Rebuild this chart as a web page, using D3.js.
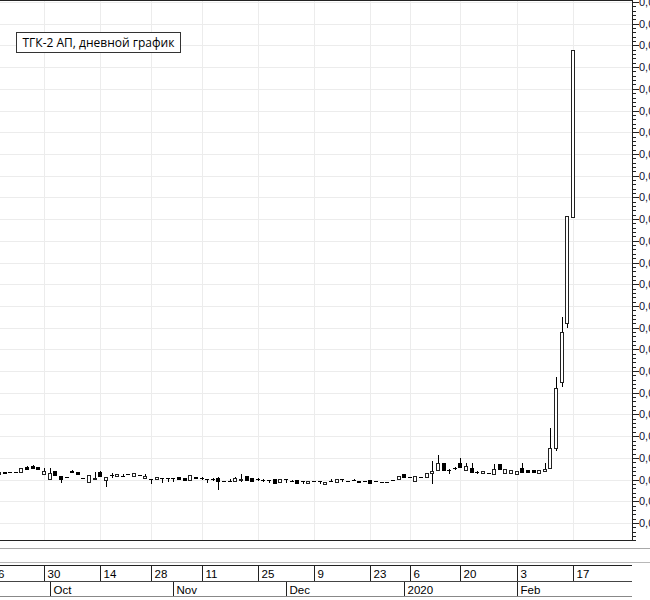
<!DOCTYPE html>
<html>
<head>
<meta charset="utf-8">
<script src="https://cdn.jsdelivr.net/npm/d3@7"></script>
<style>
  html, body { margin: 0; padding: 0; background: #fff; }
  svg { display: block; }
</style>
</head>
<body>
<svg id="chart" width="650" height="600"></svg>
<script>
// ---- DATA ----
const title = "ТГК-2 АП, дневной график";
const dates = [
  "2019-09-16","2019-09-17","2019-09-18","2019-09-19","2019-09-20","2019-09-23","2019-09-24","2019-09-25","2019-09-26","2019-09-27",
  "2019-09-30","2019-10-01","2019-10-02","2019-10-03","2019-10-04","2019-10-07","2019-10-08","2019-10-09","2019-10-10","2019-10-11",
  "2019-10-14","2019-10-15","2019-10-16","2019-10-17","2019-10-21","2019-10-22","2019-10-23","2019-10-24","2019-10-25","2019-10-28",
  "2019-10-29","2019-10-30","2019-10-31","2019-11-01","2019-11-05","2019-11-06","2019-11-07","2019-11-08","2019-11-11","2019-11-12",
  "2019-11-13","2019-11-14","2019-11-15","2019-11-18","2019-11-19","2019-11-20","2019-11-21","2019-11-22","2019-11-25","2019-11-26",
  "2019-11-27","2019-11-28","2019-11-29","2019-12-02","2019-12-03","2019-12-04","2019-12-05","2019-12-06","2019-12-09","2019-12-10",
  "2019-12-11","2019-12-12","2019-12-13","2019-12-16","2019-12-17","2019-12-18","2019-12-19","2019-12-20","2019-12-23","2019-12-24",
  "2019-12-25","2019-12-26","2019-12-27","2019-12-30","2020-01-03","2020-01-06","2020-01-08","2020-01-09","2020-01-10","2020-01-13",
  "2020-01-14","2020-01-15","2020-01-16","2020-01-17","2020-01-20","2020-01-21","2020-01-22","2020-01-23","2020-01-24","2020-01-27",
  "2020-01-28","2020-01-29","2020-01-30","2020-01-31","2020-02-03","2020-02-04","2020-02-05","2020-02-06","2020-02-07","2020-02-10",
  "2020-02-11","2020-02-12","2020-02-13","2020-02-14","2020-02-17"
];
// OHLC (null = outside the visible window)
const open = [
  null,null,0.00613,0.00618,0.00618,0.00618,0.00618,0.00629,0.00631,0.00629,
  0.00613,0.00601,0.00620,0.00608,0.00606,0.00620,0.00618,0.00604,0.00594,0.00601,
  0.00618,0.00599,0.00611,0.00608,0.00608,0.00613,0.00608,0.00611,0.00604,0.00601,
  0.00601,0.00604,0.00604,0.00604,0.00606,0.00604,0.00599,0.00606,0.00604,0.00601,
  0.00601,0.00604,0.00597,0.00597,0.00597,0.00599,0.00608,0.00604,0.00601,0.00599,
  0.00599,0.00601,0.00594,0.00601,0.00597,0.00599,0.00597,0.00592,0.00597,0.00597,
  0.00590,0.00597,0.00594,0.00601,0.00597,0.00599,0.00597,0.00597,0.00599,0.00597,
  0.00594,0.00594,0.00599,0.00601,0.00613,0.00606,0.00597,0.00606,0.00606,0.00615,
  0.00622,0.00638,0.00622,0.00627,0.00638,0.00622,0.00627,0.00618,0.00615,0.00615,
  0.00613,0.00636,0.00615,0.00615,0.00613,0.00627,0.00622,0.00622,0.00615,0.00620,
  0.00627,0.00673,0.00825,0.00961,0.01205
];
const high = [
  null,null,0.00618,0.00618,0.00618,0.00618,0.00627,0.00631,0.00634,0.00629,
  0.00627,0.00627,0.00620,0.00608,0.00606,0.00622,0.00618,0.00604,0.00611,0.00618,
  0.00620,0.00606,0.00615,0.00613,0.00613,0.00613,0.00615,0.00611,0.00613,0.00601,
  0.00606,0.00604,0.00604,0.00604,0.00606,0.00604,0.00611,0.00606,0.00606,0.00601,
  0.00604,0.00606,0.00597,0.00601,0.00606,0.00613,0.00608,0.00604,0.00604,0.00601,
  0.00599,0.00601,0.00601,0.00601,0.00599,0.00599,0.00597,0.00597,0.00597,0.00597,
  0.00594,0.00601,0.00601,0.00601,0.00597,0.00601,0.00597,0.00597,0.00599,0.00597,
  0.00594,0.00594,0.00599,0.00608,0.00613,0.00606,0.00608,0.00606,0.00615,0.00643,
  0.00657,0.00638,0.00624,0.00629,0.00650,0.00638,0.00638,0.00620,0.00620,0.00615,
  0.00636,0.00636,0.00624,0.00622,0.00620,0.00638,0.00622,0.00622,0.00622,0.00638,
  0.00719,0.00836,0.00975,0.01207,0.01590
];
const low = [
  null,null,0.00613,0.00615,0.00618,0.00618,0.00618,0.00624,0.00627,0.00624,
  0.00613,0.00601,0.00611,0.00594,0.00606,0.00618,0.00613,0.00604,0.00594,0.00601,
  0.00608,0.00585,0.00606,0.00608,0.00608,0.00613,0.00608,0.00611,0.00604,0.00592,
  0.00601,0.00594,0.00597,0.00597,0.00601,0.00599,0.00599,0.00604,0.00601,0.00594,
  0.00599,0.00578,0.00597,0.00597,0.00597,0.00597,0.00599,0.00597,0.00599,0.00597,
  0.00594,0.00592,0.00594,0.00594,0.00597,0.00592,0.00592,0.00592,0.00597,0.00592,
  0.00590,0.00597,0.00594,0.00597,0.00597,0.00599,0.00594,0.00597,0.00592,0.00597,
  0.00594,0.00594,0.00599,0.00601,0.00606,0.00606,0.00597,0.00606,0.00606,0.00592,
  0.00622,0.00622,0.00615,0.00624,0.00629,0.00622,0.00618,0.00615,0.00615,0.00615,
  0.00613,0.00624,0.00615,0.00615,0.00613,0.00618,0.00618,0.00618,0.00615,0.00620,
  0.00627,0.00668,0.00816,0.00952,0.01205
];
const close = [
  null,null,0.00618,0.00615,0.00618,0.00618,0.00627,0.00624,0.00627,0.00624,
  0.00620,0.00615,0.00611,0.00601,0.00606,0.00618,0.00613,0.00604,0.00611,0.00604,
  0.00608,0.00606,0.00611,0.00613,0.00608,0.00613,0.00615,0.00611,0.00608,0.00601,
  0.00606,0.00604,0.00604,0.00604,0.00601,0.00599,0.00611,0.00604,0.00604,0.00601,
  0.00601,0.00597,0.00597,0.00597,0.00604,0.00601,0.00599,0.00597,0.00601,0.00599,
  0.00599,0.00592,0.00601,0.00601,0.00597,0.00592,0.00597,0.00597,0.00597,0.00597,
  0.00594,0.00597,0.00601,0.00601,0.00597,0.00599,0.00594,0.00597,0.00592,0.00597,
  0.00594,0.00594,0.00599,0.00608,0.00606,0.00606,0.00608,0.00606,0.00615,0.00620,
  0.00638,0.00622,0.00622,0.00627,0.00629,0.00631,0.00618,0.00618,0.00620,0.00615,
  0.00624,0.00624,0.00624,0.00622,0.00620,0.00618,0.00618,0.00618,0.00622,0.00624,
  0.00673,0.00811,0.00940,0.01207,0.01590
];
const dayTickDates = ["2019-09-16","2019-09-30","2019-10-14","2019-10-28","2019-11-11","2019-11-25","2019-12-09","2019-12-23","2020-01-06","2020-01-20","2020-02-03","2020-02-17"];
const dayTickLabels = ["16","30","14","28","11","25","9","23","6","20","3","17"];
const monthTickDates = ["2019-10-01","2019-11-01","2019-12-02","2020-01-03","2020-02-03"];
const monthTickLabels = ["Oct","Nov","Dec","2020","Feb"];
const priceTicks = [0.0050,0.0055,0.0060,0.0065,0.0070,0.0075,0.0080,0.0085,0.0090,0.0095,0.0100,0.0105,0.0110,0.0115,0.0120,0.0125,0.0130,0.0135,0.0140,0.0145,0.0150,0.0155,0.0160,0.0165,0.0170];

// ---- LAYOUT ----
const W = 650, H = 600;
const plotRight = 632, plotBottom = 541;
const svg = d3.select("#chart");
svg.append("rect").attr("width", W).attr("height", H).attr("fill", "#fff");

const x = d3.scalePoint().domain(dates).range([-12.28, 573]);
const y = d3.scaleLinear().domain([0.0050, 0.0170]).range([523, 2]);
const px = d => Math.round(x(d));
const py = v => Math.round(y(v));

// grid
const grid = svg.append("g");
priceTicks.forEach(t => {
  grid.append("line").attr("x1", 0).attr("x2", plotRight).attr("y1", py(t) + 0.5).attr("y2", py(t) + 0.5)
    .attr("stroke", "#ececec").attr("stroke-width", 1);
});
dayTickDates.forEach(d => {
  grid.append("line").attr("x1", px(d) + 0.5).attr("x2", px(d) + 0.5).attr("y1", 0).attr("y2", plotBottom)
    .attr("stroke", "#ececec").attr("stroke-width", 1);
});

// candles
const plot = svg.append("g");
dates.forEach((d, i) => {
  if (open[i] == null) return;
  const cx = px(d);
  const yo = py(open[i]), yc = py(close[i]), yh = py(high[i]), yl = py(low[i]);
  const top = Math.min(yo, yc), bot = Math.max(yo, yc);
  if (yl > yh) {
    plot.append("line").attr("x1", cx + 0.5).attr("x2", cx + 0.5).attr("y1", yh).attr("y2", yl + 1)
      .attr("stroke", "#000").attr("stroke-width", 1);
  }
  if (bot - top < 1) {
    plot.append("line").attr("x1", cx - 2).attr("x2", cx + 2).attr("y1", top + 0.5).attr("y2", top + 0.5)
      .attr("stroke", "#000").attr("stroke-width", 1);
  } else {
    const up = close[i] >= open[i];
    plot.append("rect").attr("x", cx - 1.5).attr("y", top + 0.5).attr("width", 3).attr("height", bot - top)
      .attr("fill", up ? "#fff" : "#000").attr("stroke", up ? "#222" : "#000").attr("stroke-width", 1);
  }
});

// frame
const frame = svg.append("g").attr("fill", "none");
frame.append("line").attr("x1", 0).attr("x2", plotRight + 1).attr("y1", 0.5).attr("y2", 0.5).attr("stroke", "#222");
frame.append("line").attr("x1", plotRight + 0.5).attr("x2", plotRight + 0.5).attr("y1", 0).attr("y2", plotBottom).attr("stroke", "#222");
frame.append("line").attr("x1", 0).attr("x2", plotRight + 1).attr("y1", plotBottom - 0.5).attr("y2", plotBottom - 0.5).attr("stroke", "#222");

// y axis ticks & labels
const minorTicks = d3.range(0.0046, 0.01701, 0.0001);
minorTicks.forEach(t => {
  const yy = py(t);
  if (yy < 0 || yy > plotBottom - 1) return;
  frame.append("line").attr("x1", plotRight).attr("x2", plotRight + 4).attr("y1", yy + 0.5).attr("y2", yy + 0.5).attr("stroke", "#222");
});
priceTicks.forEach(t => {
  const yy = py(t);
  frame.append("line").attr("x1", plotRight).attr("x2", plotRight + 7).attr("y1", yy + 0.5).attr("y2", yy + 0.5).attr("stroke", "#222");
  svg.append("text").attr("x", 639).attr("y", yy + 0.5).attr("dy", "0.36em")
    .attr("font-family", "Arial, 'Liberation Sans', sans-serif").attr("font-size", 11).attr("fill", "#101030")
    .text(d3.format(".4f")(t).replace(".", ","));
});

// bottom time axis bands
const band = svg.append("g");
band.append("line").attr("x1", 0).attr("x2", W).attr("y1", 548.5).attr("y2", 548.5).attr("stroke", "#a8a8a8");
band.append("line").attr("x1", 0).attr("x2", W).attr("y1", 562.5).attr("y2", 562.5).attr("stroke", "#b8b8b8");
band.append("line").attr("x1", 0).attr("x2", plotRight).attr("y1", 565.5).attr("y2", 565.5).attr("stroke", "#222");
band.append("line").attr("x1", 0).attr("x2", plotRight).attr("y1", 581.5).attr("y2", 581.5).attr("stroke", "#444");
band.append("line").attr("x1", 0).attr("x2", plotRight).attr("y1", 596.5).attr("y2", 596.5).attr("stroke", "#888");

dayTickDates.forEach((d, i) => {
  const xx = px(d);
  band.append("line").attr("x1", xx + 0.5).attr("x2", xx + 0.5).attr("y1", 566).attr("y2", 581).attr("stroke", "#222");
  band.append("text").attr("x", xx + 3.5).attr("y", 578).attr("font-family", "Arial, 'Liberation Sans', sans-serif")
    .attr("font-size", 11.5).attr("fill", "#000").text(dayTickLabels[i]);
});
monthTickDates.forEach((d, i) => {
  const xx = px(d);
  band.append("line").attr("x1", xx + 0.5).attr("x2", xx + 0.5).attr("y1", 582).attr("y2", 596).attr("stroke", "#222");
  band.append("text").attr("x", xx + 3.5).attr("y", 593.5).attr("font-family", "Arial, 'Liberation Sans', sans-serif")
    .attr("font-size", 11.5).attr("fill", "#000").text(monthTickLabels[i]);
});

// title box
const tb = svg.append("g");
tb.append("rect").attr("x", 16.5).attr("y", 32.5).attr("width", 164).attr("height", 20)
  .attr("fill", "#fff").attr("stroke", "#333");
tb.append("text").attr("x", 22.5).attr("y", 47).attr("font-family", "'Segoe UI', 'Open Sans', 'Noto Sans', sans-serif")
  .attr("font-size", 12).attr("fill", "#000").text(title);
</script>
</body>
</html>
